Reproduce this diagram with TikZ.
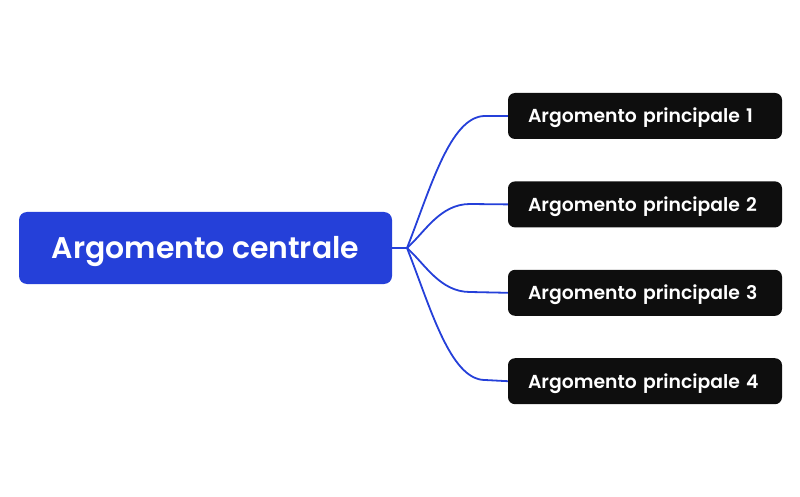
\documentclass[tikz,border=0pt]{standalone}
\usepackage{fontspec}
\setmainfont{Poppins}
\newfontfamily\topicfont{Poppins}[UprightFont={* SemiBold}]
\usepackage{tikz}
\usetikzlibrary{positioning}
\definecolor{topicblue}{HTML}{2540D9}
\definecolor{topicblack}{HTML}{0E0E0E}
\tikzset{centralbox/.style={rectangle,rounded corners=8pt,fill=topicblue,text=white,
		minimum width=373pt,minimum height=72pt,inner sep=0pt,
		text height=21pt,text depth=0pt,
		font=\topicfont\fontsize{29.9}{34}\selectfont},
	 mainbox/.style={rectangle,rounded corners=7pt,fill=topicblack,text=white,
		minimum width=274pt,minimum height=46pt,inner xsep=20pt,inner ysep=0pt,
		text width=234pt,align=left,text height=14pt,text depth=0pt,
		font=\topicfont\fontsize{18.8}{22}\selectfont},
	 link/.style={draw=topicblue,line width=1.8pt},
	 node distance = 42pt
	 }
\begin{document}
\begin{tikzpicture}[x=1pt,y=1pt] % central topic with four main topics
	\useasboundingbox (0,0) rectangle (800,496);
	\node[centralbox] (c) at (205.5,248) {Argomento centrale};
	\node[mainbox] (m1) at (645,380) {Argomento principale 1};
	\node[mainbox] (m2) [below= of m1] {Argomento principale 2};
	\node[mainbox] (m3) [below= of m2] {Argomento principale 3};
	\node[mainbox] (m4) [below= of m3] {Argomento principale 4};
	\coordinate (j) at (407,248);
	\coordinate (e1) at (485,380);
	\coordinate (e2) at (470,292);
	\coordinate (e3) at (470,204);
	\coordinate (e4) at (485,116);
	\draw[link] (c.east) to (j);
	\draw[link] (j) .. controls (430,306) and (450,380) .. (e1) to (m1.west);
	\draw[link] (j) .. controls (425,264) and (440,292) .. (e2) to (m2.west);
	\draw[link] (j) .. controls (425,232) and (440,204) .. (e3) to (m3.west);
	\draw[link] (j) .. controls (430,190) and (450,116) .. (e4) to (m4.west);
\end{tikzpicture}
\end{document}
